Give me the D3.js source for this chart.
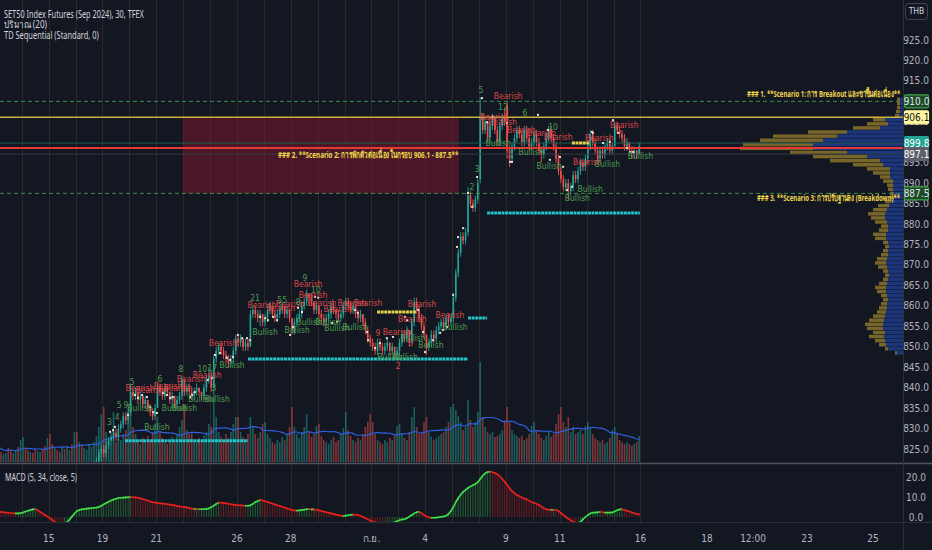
<!DOCTYPE html>
<html><head><meta charset="utf-8">
<script src="https://cdn.jsdelivr.net/npm/d3@7"></script>
<style>
html,body{margin:0;padding:0;background:#131722;overflow:hidden}
svg{display:block}
</style></head><body>
<svg id="c" width="932" height="550"></svg>
<script>
// ---------------- DATA ----------------
// 30-minute bars, 11 per session day, starting 13 Aug 2024. [open, high, low, close]
const candles = [
[815,817,814,816],[816,818,815,817],[817,817,814,815],[815,817,814,816],[816,819,815,818],[818,818,816,817],[817,818,815,816],[816,819,815,818],[818,820,817,819],[819,819,816,817],[817,819,816,818],
[818,820,817,819],[819,819,817,818],[818,818,816,817],[817,819,816,818],[818,818,815,816],[816,817,814,815],[815,817,814,816],[816,818,815,817],[817,817,814,815],[815,816,813,814],[814,816,813,815],
[815,815,812,813],[813,814,811,812],[812,815,811,814],[814,814,812,813],[813,813,810,811],[811,813,810,812],[812,812,809,810],[810,812,809,811],[811,814,810,813],[813,813,811,812],[812,815,811,814],
[814,815,812,813],[813,816,812,815],[815,815,813,814],[814,817,813,816],[816,818,815,817],[817,819,816,818],[818,820,817,819],[819,822,818,821],[821,823,820,822],[822,825,821,824],[824,826,822,825],
[825,826,823,824],[824,827,823,826],[826,828,825,827],[827,829,826,828],[828,830,827,829],[829,830,827,828],[828,831,827,830],[830,832,829,831],[831,834,830,833],[833,834,831,832],[832,835,831,834],
[834,841,833,839],[839,840,837,838],[838,840,837,839],[839,839,836,837],[837,839,836,838],[838,838,835,836],[836,838,835,837],[837,837,834,835],[835,836,833,834],[834,835,832,833],[833,836,832,835],
[835,841,835,840],[840,841,838,839],[839,840,837,838],[838,841,837,840],[840,840,838,839],[839,839,836,837],[837,839,835,838],[838,838,835,836],[836,838,835,837],[837,839,836,838],[838,843,837,842],
[842,842,838,839],[839,841,838,840],[840,841,838,839],[839,840,837,838],[838,840,837,839],[839,841,838,840],[840,840,838,839],[839,839,837,838],[838,841,837,840],[840,843,839,842],[842,845,841,843],
[843,844,839,840],[840,848,840,847],[847,850,846,849],[849,851,848,850],[850,851,848,849],[849,850,847,848],[848,849,846,847],[847,848,845,846],[846,848,845,847],[847,850,846,849],[849,853,848,852],
[852,853,850,851],[851,853,850,852],[852,852,849,850],[850,852,849,851],[851,852,849,850],[850,859,850,858],[858,860,857,859],[859,860,857,858],[858,859,856,857],[857,859,855,858],[858,858,855,856],
[856,858,855,857],[857,860,856,859],[859,861,858,860],[860,860,857,858],[858,859,856,857],[857,859,856,858],[858,860,857,859],[859,861,858,860],[860,860,857,858],[858,860,857,859],[859,859,856,857],
[857,857,853,854],[854,857,853,856],[856,858,855,857],[857,859,856,858],[858,861,857,860],[860,862,859,861],[861,864,860,863],[863,863,860,862],[862,863,860,861],[861,861,858,859],[859,861,858,860],
[860,860,857,858],[858,859,856,857],[857,858,855,856],[856,858,855,857],[857,859,856,858],[858,861,857,860],[860,861,858,859],[859,859,857,858],[858,859,856,857],[857,859,856,858],[858,861,857,860],
[860,862,859,861],[861,862,859,860],[860,861,858,859],[859,861,858,860],[860,860,857,858],[858,859,856,857],[857,859,856,858],[858,858,855,856],[856,857,853,854],[854,855,851,852],[852,853,850,851],
[851,852,849,850],[850,851,848,849],[849,852,848,851],[851,852,849,850],[850,851,848,849],[849,851,848,850],[850,852,849,851],[851,851,848,849],[849,851,848,850],[850,850,847,848],[848,850,847,849],
[849,852,848,851],[851,854,850,853],[853,854,851,852],[852,855,851,854],[854,854,850,851],[851,857,851,856],[856,862,855,861],[861,862,858,859],[859,860,856,857],[857,858,854,855],[855,856,852,853],
[853,853,848,850],[850,852,849,851],[851,854,850,853],[853,854,851,852],[852,855,851,854],[854,856,853,855],[855,857,854,856],[856,857,854,855],[855,858,854,857],[857,858,855,856],[856,858,855,857],
[857,863,856,862],[862,869,861,868],[868,874,867,873],[873,878,872,877],[877,878,875,876],[876,879,875,878],[878,889,877,887],[887,888,884,885],[885,886,883,884],[884,887,883,886],[886,891,885,890],
[891,911,890,906],[906,907,902,903],[903,906,902,905],[905,905,900,901],[901,905,900,904],[904,907,903,906],[906,906,902,903],[903,904,899,900],[900,905,899,904],[904,907,903,906],[906,908,904,905],
[909,910,896,898],[898,899,894,896],[896,900,895,899],[899,902,898,901],[901,904,900,903],[903,904,901,902],[902,903,899,900],[900,904,899,903],[903,904,900,901],[901,902,898,899],[899,901,898,900],
[900,903,899,902],[902,903,899,900],[900,901,897,898],[898,899,895,897],[897,900,896,899],[899,902,898,901],[901,904,900,903],[903,904,900,901],[901,902,898,899],[899,900,895,896],[896,897,892,893],
[893,894,890,891],[891,892,888,889],[889,891,888,890],[890,891,886,888],[888,890,887,889],[889,893,888,892],[892,893,890,891],[891,894,890,893],[893,896,892,895],[895,896,893,894],[894,897,893,896],
[896,900,895,899],[899,903,898,902],[902,903,899,900],[900,901,897,898],[898,899,895,896],[896,899,895,898],[898,899,896,897],[897,900,896,899],[899,901,898,900],[900,901,897,898],[898,900,897,899],
[899,905,899,904],[904,905,902,903],[903,904,901,902],[902,903,900,901],[901,902,898,899],[899,901,898,900],[900,900,897,898],[898,899,896,897],[897,899,896,898],[898,898,896,897],[897,900,897,899]
];
// volume per bar (hundreds of contracts)
const volumes = [
18,12,10,8,9,14,12,9,11,15,22,
25,14,12,10,9,13,11,10,12,16,24,
28,18,14,12,10,15,13,16,12,18,30,
30,20,16,14,12,18,15,20,26,35,48,
55,30,22,18,50,20,24,22,28,32,40,
60,35,28,22,18,24,20,26,22,30,38,
45,30,24,20,18,22,25,20,28,35,42,
57,32,28,30,22,20,24,22,26,30,38,
35,90,45,30,25,22,28,24,30,38,45,
45,30,25,22,28,45,35,28,24,30,38,
40,28,24,20,18,22,20,25,22,28,35,
55,35,28,24,30,35,48,30,25,28,36,
38,26,22,20,18,22,25,20,22,28,34,
50,32,26,22,20,24,22,28,35,40,48,
40,28,22,20,18,22,20,24,22,28,36,
38,28,24,22,30,45,55,35,28,30,40,
45,30,25,22,24,26,28,30,35,40,55,
58,52,46,40,32,35,62,42,35,40,50,
100,45,35,30,28,30,25,26,28,32,42,
55,40,32,28,26,24,26,22,24,28,36,
40,32,28,24,22,26,30,25,28,38,48,
55,40,35,45,30,35,28,30,32,28,36,
40,35,28,24,22,20,22,18,20,24,32,
35,28,22,20,18,20,18,16,18,20,26
];
// MACD (5, 34, close, 5) line value per bar
const macd = [
2.7,2.6,2.5,2.4,2.2,2.1,2.0,1.9,1.8,1.8,1.9,
2.3,2.7,3.1,3.5,3.8,3.9,3.4,2.6,1.8,1.0,0.2,
-0.6,-1.5,-2.4,-3.2,-3.8,-3.9,-3.4,-2.6,-1.4,0.2,1.6,
3.0,3.5,3.8,4.0,4.2,4.3,4.4,4.6,4.7,5.0,5.6,
6.3,7.0,7.6,8.2,8.7,9.1,9.5,9.6,9.7,9.8,9.8,
10.0,9.9,9.8,9.6,9.3,9.0,8.6,8.2,7.8,7.4,7.2,
7.0,6.9,6.7,6.6,6.4,6.2,6.0,5.8,5.5,5.3,5.1,
5.0,4.8,4.5,4.2,4.0,4.0,3.9,3.9,4.0,4.0,4.3,
4.9,5.7,6.5,7.2,7.1,7.0,6.8,6.6,6.4,6.2,6.0,
5.9,5.8,5.7,5.6,5.6,5.8,6.6,7.4,8.0,8.5,8.3,
7.9,7.5,7.1,6.7,6.3,5.9,5.5,5.1,4.7,4.3,3.9,
3.5,3.3,3.2,3.3,3.5,3.7,3.9,3.9,3.8,3.8,3.6,
3.3,3.0,2.7,2.4,2.1,1.8,1.5,1.2,0.9,0.7,0.5,
0.7,0.9,1.1,1.2,1.1,1.0,0.6,0.0,-0.6,-1.2,-1.8,
-2.3,-2.7,-3.0,-3.2,-3.3,-3.4,-3.4,-3.3,-3.0,-2.6,-2.1,
-1.6,-1.2,-1.2,-0.6,0.2,1.0,1.8,2.4,2.6,1.9,1.0,
0.3,-0.2,-0.4,-0.4,-0.3,-0.1,0.1,0.2,0.6,1.5,3.0,
5.0,7.5,9.5,11.2,12.6,13.6,14.5,15.3,15.9,16.5,17.4,
19.0,20.6,21.8,22.5,22.7,22.4,22.0,21.4,20.3,19.0,17.6,
16.0,14.4,12.9,11.8,11.0,10.4,9.8,9.3,8.8,8.2,7.5,
7.0,6.6,6.0,5.2,4.4,3.8,3.7,3.6,3.6,3.5,3.0,
2.1,1.1,0.1,-0.9,-1.7,-2.4,-2.9,-3.0,-2.4,-1.2,0.0,
1.0,1.8,2.2,2.2,2.3,2.6,2.4,2.2,2.2,2.2,2.3,
2.8,3.4,3.8,3.8,3.5,3.1,2.7,2.3,1.9,1.6,1.3
];
// Volume profile rows (price bin centre, up volume, down volume)
const vpPrice = [910.5,909.5,908.5,907.5,906.5,905.5,904.5,903.5,902.5,901.5,900.5,899.5,898.5,897.5,896.5,895.5,894.5,893.5,892.5,891.5,890.5,889.5,888.5,887.5,886.5,885.5,884.5,883.5,882.5,881.5,880.5,879.5,878.5,877.5,876.5,875.5,874.5,873.5,872.5,871.5,870.5,869.5,868.5,867.5,866.5,865.5,864.5,863.5,862.5,861.5,860.5,859.5,858.5,857.5,856.5,855.5,854.5,853.5,852.5,851.5,850.5,849.5,848.5];
const vpUp =   [3,3,3,3,4,18,15,23,56,66,80,90,90,56,36,23,20,13,13,13,10,10,10,9,9,12,14,16,18,18,16,15,15,17,17,15,14,15,15,16,17,16,15,14,15,16,17,17,16,15,16,16,17,18,19,20,20,18,19,18,17,15,6];
const vpDown = [3,3,3,4,4,12,21,27,39,64,63,70,73,57,54,50,30,23,17,10,10,6,5,4,4,6,11,14,17,14,12,7,9,13,11,5,4,5,7,10,11,9,5,4,5,8,11,9,6,5,6,8,9,12,15,18,16,12,15,10,7,3,2];
// Time axis (bar index -> label)
const timeTickBars = [22,44,66,99,121,154,176,209,231,264,291.2,310.1,332.1,359.1];
const timeTickLabels = ["15","19","21","26","28","ก.ย.","4","9","11","16","18","12:00","23","25"];
// price ticks shown on the axis (900 and 910 sit under the level badges)
const priceTicks = [825,830,835,840,845,850,855,860,865,870,875,880,885,890,895,905,915,920,925];
const macdTicks = [0,10,20];
// Price levels drawn on chart
const levels = [
  {price:910.0, style:"dashG"},
  {price:906.1, style:"yellow"},
  {price:899.8, style:"teal"},
  {price:898.6, style:"red"},
  {price:897.1, style:"grey"},
  {price:887.5, style:"dashG"}
];
const priceLabels = [
  {price:910.0, text:"910.0", fill:"#1c4a28", stroke:"#43a047", color:"#e0e3eb"},
  {price:906.1, text:"906.1", fill:"#fff59d", stroke:"#fff59d", color:"#131722"},
  {price:899.8, text:"899.8", fill:"#22a394", stroke:"#22a394", color:"#ffffff"},
  {price:897.1, text:"897.1", fill:"#5d606b", stroke:"#5d606b", color:"#ffffff"},
  {price:887.5, text:"887.5", fill:"#1c4a28", stroke:"#43a047", color:"#e0e3eb"}
];
// Zone rectangle (bar from, bar to, price top, price bottom)
const zone = [76.9, 189.8, 906.1, 887.5];
// TD Sequential support / resistance segments [barFrom, barTo, price, type]
const tdst = [
  [53.2,103.5,827.0,"sup"],[103.5,193.5,847.0,"sup"],[193.5,201.3,857.0,"sup"],[201.3,263.8,882.7,"sup"],
  [156.3,172.2,858.5,"res"],[236,243.4,899.8,"res"]
];
// TD Sequential labels [bar, price, text, kind]
const tdLabels = [
[46.3,831.6,"3","bull"],[49.5,832.8,"4","bull"],[50.3,835.8,"5","bull"],[53.1,835.8,"9","bull"],[55.6,841.4,"5","bull"],
[58.8,839.9,"Bearish","bear"],[62.9,839.4,"Bearish","bear"],[58.8,835.0,"Bullish","bull"],[65.8,830.4,"Bullish","bull"],
[67,842.1,"6","bull"],[70.3,840.4,"Bearish","bear"],[74.4,839.9,"Bearish","bear"],[72.9,835.0,"Bullish","bull"],[77,835.0,"Bullish","bull"],
[75.6,844.6,"8","bull"],[79.8,842.1,"Bearish","bear"],[84.3,844.6,"10","bull"],[88.4,844.8,"17","bull"],[86.3,843.1,"Bearish","bear"],
[83.8,837.2,"Bullish","bull"],[90.4,837.2,"Bullish","bull"],[89.1,839.9,"3","bull"],[92.8,850.9,"Bearish","bear"],[96.5,845.5,"Bullish","bull"],
[105.9,861.9,"21","bull"],[108.7,860.2,"Bearish","bear"],[116.5,859.5,"Bearish","bear"],[120.2,860.5,"Bearish","bear"],[110,853.6,"Bullish","bull"],
[117,861.4,"55","bull"],[123.5,860.9,"8","bull"],[126.3,866.8,"9","bull"],[127.6,865.3,"Bearish","bear"],[129.6,862.7,"Bearish","bear"],
[130.8,863.9,"10","bull"],[133.3,860.7,"Bearish","bear"],[123.1,854.1,"Bullish","bull"],[128,856.1,"Bullish","bull"],[135.7,856.1,"Bullish","bull"],
[139.8,859.2,"Bearish","bear"],[145.5,860.7,"Bearish","bear"],[152.1,860.7,"Bearish","bear"],[139.4,854.6,"Bullish","bull"],[146.8,854.8,"Bullish","bull"],
[156.2,853.4,"9","bear"],[164,853.6,"Bearish","bear"],[161.1,847.5,"Bullish","bull"],[167.3,847.5,"Bullish","bull"],[164.4,845.3,"2","bear"],
[174.2,860.5,"Bearish","bear"],[170.2,856.8,"Bearish","bear"],[170.5,852.1,"Bullish","bull"],[169.7,850.9,"3","bear"],[177.8,850.4,"Bullish","bull"],
[185.6,857.8,"Bearish","bear"],[187.7,854.8,"Bullish","bull"],[194.6,889.1,"2","bull"],[196.7,893.5,"3","bull"],[198.3,912.8,"5","bull"],
[209.4,911.3,"Bearish","bear"],[207.3,908.6,"12","bull"],[216.3,907.2,"6","bull"],[203.8,906.2,"Bearish","bear"],[207.1,905.0,"Bearish","bear"],
[214.8,903.0,"Bearish","bear"],[223,902.3,"Bearish","bear"],[227.8,903.7,"10","bull"],[229.9,901.3,"Bearish","bear"],[205.3,899.8,"Bullish","bull"],
[218.8,897.6,"Bullish","bull"],[226.2,894.2,"Bullish","bull"],[241.8,895.2,"Bearish","bear"],[237.7,886.4,"Bullish","bull"],[243,888.6,"Bullish","bull"],
[246.7,901.0,"Bearish","bear"],[250,894.7,"Bullish","bull"],[256.9,904.2,"Bearish","bear"],[263.5,896.6,"Bullish","bull"]
];
// TD setup count dots [bar, price]
const tdDots = [
[46.6,829.2],[47.8,829.6],[48.6,830.4],[53.9,833.3],[56.8,838.2],[58.0,837.5],[59.7,838.2],[61.7,837.7],[62.9,835.3],[64.2,834.0],[65.8,833.8],
[68.3,838.7],[69.9,838.2],[71.2,837.5],[72.3,837.7],[79.3,837.7],[80.1,838.2],[81.3,838.9],[86.6,841.9],[88.3,842.4],[89.5,848.0],[91.6,848.5],
[94.4,847.3],[95.7,846.8],[96.9,847.5],[98.9,852.9],[100.6,852.1],[102.6,852.1],[103.9,851.6],[108.0,857.3],[110.0,857.0],[111.2,856.5],[113.3,857.3],[114.9,856.5],
[120.2,852.9],[121.4,854.8],[123.5,859.5],[125.1,858.5],[130.4,862.2],[131.7,862.0],[137.4,855.8],[139.4,856.1],[146.8,859.0],[148.0,858.3],
[151.7,853.6],[152.1,851.6],[155.0,849.7],[157.0,850.9],[159.8,852.1],[162.3,852.4],[167.2,857.3],[168.1,856.5],[172.6,859.0],[174.6,853.6],
[175.4,848.7],[178.7,851.6],[181.6,853.4],[182.8,854.1],[184.4,854.8],[186.9,862.7],[188.5,874.4],[188.9,876.8],[191.0,879.0],[193.0,887.6],
[194.7,884.2],[196.7,891.5],[198.7,910.8],[200.8,904.9],[203.2,906.2],[208.9,904.7],[210.2,895.2],[211.0,895.2],[221.6,906.7],[225.7,903.0],
[226.5,895.7],[230.6,896.4],[231.9,894.0],[233.5,888.3],[235.5,889.1],[243.7,902.5],[244.1,902.3],[248.2,899.8],[251.0,900.1],[252.3,905.4],
[254.4,902.3],[258.1,898.6],[259.3,897.6],[260.6,897.6]
];
const legendLines = ["SET50 Index Futures (Sep 2024), 30, TFEX","ปริมาณ (20)","TD Sequential (Standard, 0)"];
const macdTitle = "MACD (5, 34, close, 5)";
const scenarios = [
  {text:"### 1. **Scenario 1: การ Breakout และขาขึ้นต่อเนื่อง**", price:911.8, anchor:"right", len:154},
  {text:"### 2. **Scenario 2: การพักตัวต่อเนื่องในกรอบ 906.1 - 887.5**", price:896.9, anchor:"zone", len:179},
  {text:"### 3. **Scenario 3: การปรับฐานลง (Breakdown)**", price:886.4, anchor:"right", len:144}
];

// ---------------- DRAW ----------------
const W=932,H=550, plotR=903, mainB=462, macdT=464, macdB=522;
const svg=d3.select("#c");
const FONT="'Liberation Sans Narrow','DejaVu Sans Condensed','Noto Sans',sans-serif";
const sfont="'Noto Sans','DejaVu Sans',sans-serif";
svg.append("rect").attr("width",W).attr("height",H).attr("fill","#131722");
const defs=svg.append("defs");
defs.append("clipPath").attr("id","cm").append("rect").attr("x",0).attr("y",0).attr("width",plotR).attr("height",mainB);
defs.append("clipPath").attr("id","cd").append("rect").attr("x",0).attr("y",macdT).attr("width",plotR).attr("height",macdB-macdT);

const x=d3.scaleLinear().domain([0,264]).range([-5.1,640.4]);
const y=d3.scaleLinear().domain([825,925]).range([449,40]);
const yV=d3.scaleLinear().domain([0,115]).range([mainB,mainB-115]);
const yM=d3.scaleLinear().domain([0,20]).range([517,477]);
const bw=1.6;

// text squeezed horizontally to a target width (keeps Thai shaping intact)
function fitText(parent, str, left, cy, width, size, weight, color){
  const g=parent.append("g");
  const t=g.append("text").attr("x",0).attr("y",0).attr("dy","0.35em")
    .attr("font-family",sfont).attr("font-size",size).attr("font-weight",weight).attr("fill",color).text(str);
  const nat=t.node().getComputedTextLength()||width;
  g.attr("transform",`translate(${left},${cy}) scale(${width/nat},1)`);
  return g;
}

// day separators
const days=d3.range(0,25);
svg.append("g").selectAll("line").data(days).join("line")
  .attr("x1",d=>Math.round(x(d*11))+0.5).attr("x2",d=>Math.round(x(d*11))+0.5)
  .attr("y1",0).attr("y2",macdB).attr("stroke","#2c2823").attr("stroke-width",1);

const gm=svg.append("g").attr("clip-path","url(#cm)");
// zone
gm.append("rect").attr("x",x(zone[0])).attr("width",x(zone[1])-x(zone[0]))
  .attr("y",y(zone[2])).attr("height",y(zone[3])-y(zone[2])).attr("fill","rgba(128,24,44,0.5)");

// volume
gm.append("g").selectAll("rect").data(volumes).join("rect")
  .attr("x",(d,i)=>x(i+0.5)-bw/2).attr("width",bw)
  .attr("y",d=>yV(d)).attr("height",d=>mainB-yV(d))
  .attr("fill",(d,i)=>candles[i][3]>=candles[i][0]?"rgba(38,166,154,0.5)":"rgba(239,83,80,0.5)");
const volMA=volumes.map((v,i)=>{const s=volumes.slice(Math.max(0,i-19),i+1);return d3.mean(s);});
gm.append("path").datum(volMA).attr("fill","none").attr("stroke","#2f5fe0").attr("stroke-width",1.2)
  .attr("d",d3.line().x((d,i)=>x(i+0.5)).y(d=>yV(d)).curve(d3.curveLinear));

// volume profile
const rowH=y(0)-y(1);
const vp=gm.append("g");
vpPrice.forEach((p,i)=>{
  const yy=y(p+0.5)+0.3, hh=rowH-0.6;
  vp.append("rect").attr("x",plotR-vpUp[i]).attr("width",vpUp[i]).attr("y",yy).attr("height",hh).attr("fill","rgba(41,98,255,0.42)");
  vp.append("rect").attr("x",plotR-vpUp[i]-vpDown[i]).attr("width",vpDown[i]).attr("y",yy).attr("height",hh).attr("fill","rgba(220,180,50,0.5)");
});

// candles
const cg=gm.append("g");
cg.selectAll("line").data(candles).join("line")
  .attr("x1",(d,i)=>x(i+0.5)).attr("x2",(d,i)=>x(i+0.5))
  .attr("y1",d=>y(d[1])).attr("y2",d=>y(d[2]))
  .attr("stroke",d=>d[3]>=d[0]?"#26a69a":"#ef5350").attr("stroke-width",0.9);
cg.selectAll("rect").data(candles).join("rect")
  .attr("x",(d,i)=>x(i+0.5)-bw/2).attr("width",bw)
  .attr("y",d=>y(Math.max(d[0],d[3]))).attr("height",d=>Math.max(1,Math.abs(y(d[0])-y(d[3]))))
  .attr("fill",d=>d[3]>=d[0]?"#26a69a":"#ef5350");

// levels
const lvStyle={
  dashG:{c:"#3f8f4a",w:1,da:"4,3"},
  yellow:{c:"#c9b13c",w:1.6,da:null},
  teal:{c:"#1e5752",w:1,da:null},
  red:{c:"#e53935",w:2,da:null},
  grey:{c:"#363a45",w:1,da:null}
};
levels.forEach(l=>{
  const s=lvStyle[l.style];
  gm.append("line").attr("x1",0).attr("x2",plotR).attr("y1",y(l.price)).attr("y2",y(l.price))
    .attr("stroke",s.c).attr("stroke-width",s.w).attr("stroke-dasharray",s.da);
});

// TDST segments
gm.append("g").selectAll("line").data(tdst).join("line")
  .attr("x1",d=>x(d[0])).attr("x2",d=>x(d[1])).attr("y1",d=>y(d[2])).attr("y2",d=>y(d[2]))
  .attr("stroke",d=>d[3]==="sup"?"#22c4c8":"#e6d24a").attr("stroke-width",3)
  .attr("stroke-dasharray","3,0.6");

// TD dots
gm.append("g").selectAll("rect").data(tdDots).join("rect")
  .attr("x",d=>x(d[0]+0.5)-1).attr("y",d=>y(d[1])-1).attr("width",2).attr("height",2)
  .attr("fill","#e6e1d3");

// TD labels
gm.append("g").selectAll("text").data(tdLabels).join("text")
  .attr("x",d=>x(d[0]+0.5)).attr("y",d=>y(d[1]))
  .attr("dy","0.35em").attr("text-anchor","middle")
  .attr("font-family",FONT).attr("font-size",8.5)
  .attr("fill",d=>d[3]==="bear"?"#d9484a":"#4e9c50")
  .text(d=>d[2]);

// scenario texts
scenarios.forEach(s=>{
  const right = s.anchor==="zone" ? x(zone[1])-2 : plotR-2;
  fitText(svg, s.text, right-s.len, y(s.price), s.len, 9.5, "bold", "#f2d64b");
});

// MACD pane
const gd=svg.append("g").attr("clip-path","url(#cd)");
gd.append("g").selectAll("line").data(macd).join("line")
  .attr("x1",(d,i)=>x(i+0.5)).attr("x2",(d,i)=>x(i+0.5))
  .attr("y1",yM(0)).attr("y2",d=>yM(d))
  .attr("stroke",(d,i)=>(i===0||d>=macd[i-1])?"rgba(46,140,60,0.6)":"rgba(170,30,30,0.6)")
  .attr("stroke-width",1);
for(let i=1;i<macd.length;i++){
  gd.append("line").attr("x1",x(i-0.5)).attr("x2",x(i+0.5)).attr("y1",yM(macd[i-1])).attr("y2",yM(macd[i]))
    .attr("stroke",macd[i]>=macd[i-1]?"#3ee04a":"#e8201c").attr("stroke-width",1.6).attr("stroke-linecap","round");
}

// pane borders
svg.append("line").attr("x1",0).attr("x2",W).attr("y1",mainB+1.5).attr("y2",mainB+1.5).attr("stroke","#50535e").attr("stroke-width",1.5);
svg.append("line").attr("x1",0).attr("x2",W).attr("y1",macdB+0.5).attr("y2",macdB+0.5).attr("stroke","#2a2e39");
svg.append("line").attr("x1",plotR+0.5).attr("x2",plotR+0.5).attr("y1",0).attr("y2",H).attr("stroke","#2a2e39");

// price axis
const ax=svg.append("g").attr("font-family",FONT).attr("font-size",10).attr("fill","#b2b5be");
ax.selectAll("text.p").data(priceTicks).join("text").attr("class","p")
  .attr("x",916).attr("y",d=>y(d)).attr("dy","0.35em").attr("text-anchor","middle").text(d=>d.toFixed(1));
ax.selectAll("text.m").data(macdTicks).join("text").attr("class","m")
  .attr("x",916).attr("y",d=>yM(d)).attr("dy","0.35em").attr("text-anchor","middle").text(d=>d.toFixed(1));
priceLabels.forEach(l=>{
  const g=svg.append("g");
  g.append("rect").attr("x",904.5).attr("y",y(l.price)-6.5).attr("width",24).attr("height",13).attr("rx",1.5)
    .attr("fill",l.fill).attr("stroke",l.stroke).attr("stroke-width",1.2);
  g.append("text").attr("x",916.5).attr("y",y(l.price)).attr("dy","0.35em").attr("text-anchor","middle")
    .attr("font-family",FONT).attr("font-size",10).attr("fill",l.color).text(l.text);
});
// THB box
svg.append("rect").attr("x",905.5).attr("y",3.5).attr("width",22).attr("height",16).attr("rx",3)
  .attr("fill","#131722").attr("stroke","#434651");
svg.append("text").attr("x",916.5).attr("y",11.5).attr("dy","0.35em").attr("text-anchor","middle")
  .attr("font-family",FONT).attr("font-size",8.5).attr("fill","#d1d4dc").text("THB");

// time axis
svg.append("g").selectAll("text").data(timeTickBars).join("text")
  .attr("x",d=>x(d)).attr("y",538).attr("dy","0.35em").attr("text-anchor","middle")
  .attr("font-family",FONT).attr("font-size",10).attr("fill","#b2b5be")
  .text((d,i)=>timeTickLabels[i]);

// legends
const legW=[140,43,95];
legendLines.forEach((t,i)=>{
  fitText(svg, t, 4, 14+i*10.6, legW[i], 10, "normal", "#d1d4dc");
});
fitText(svg, macdTitle, 5, 477, 72, 10, "normal", "#d1d4dc");
</script>
</body></html>
